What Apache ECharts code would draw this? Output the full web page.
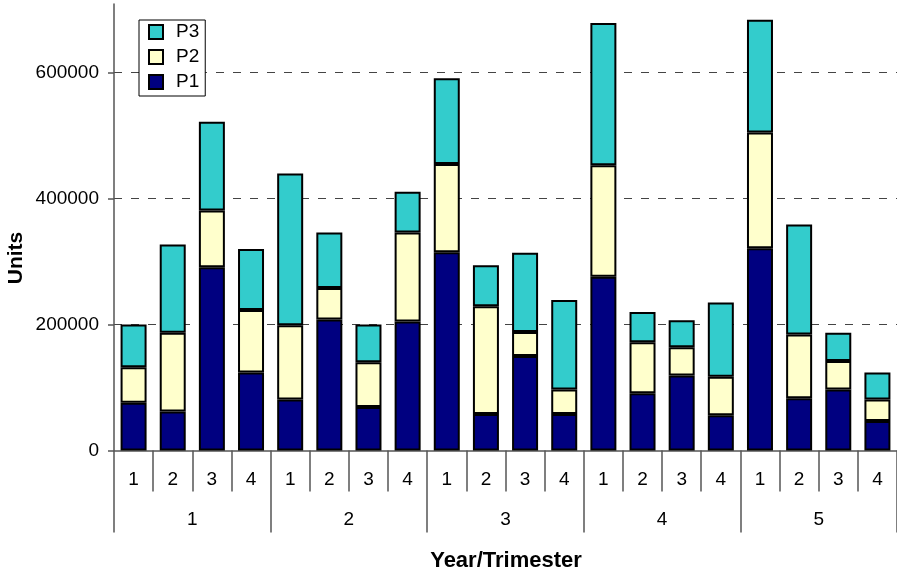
<!DOCTYPE html>
<html>
<head>
<meta charset="utf-8">
<script src="https://cdn.jsdelivr.net/npm/echarts@6/dist/echarts.min.js"></script>
<style>
html,body{margin:0;padding:0;background:#fff;}
#chart{width:897px;height:575px;}
</style>
</head>
<body>
<div id="chart"></div>
<script>
const years = ['1', '2', '3', '4', '5'];
const trimesters = ['1', '2', '3', '4'];
const yTicks = [0, 200000, 400000, 600000];
const P1 = [76000, 62000, 291000, 124000, 81000, 208000, 69000, 205000, 315000, 58000, 150000, 58000, 276000, 91000, 119000, 56000, 321000, 83000, 97000, 47000];
const P2 = [56000, 125000, 90000, 99000, 118000, 50000, 71000, 141000, 140000, 171000, 38000, 39000, 177000, 81000, 45000, 61000, 184000, 101000, 45000, 34000];
const P3 = [68000, 140000, 141000, 97000, 241000, 88000, 60000, 65000, 136000, 65000, 126000, 142000, 226000, 48000, 43000, 118000, 179000, 175000, 45000, 43000];

const categories = [];
years.forEach(y => trimesters.forEach(t => categories.push(y + '|' + t)));

const FONT = 'Liberation Sans, Arial, sans-serif';
const axisGray = '#555';

function barSeries(name, data, color) {
  return {
    name: name,
    type: 'bar',
    stack: 'total',
    data: data,
    barWidth: 26,
    itemStyle: { color: color, borderColor: '#000', borderWidth: 2 },
    emphasis: { disabled: true },
    animation: false
  };
}

const chart = echarts.init(document.getElementById('chart'), null, { renderer: 'canvas' });
chart.setOption({
  animation: false,
  grid: { left: 114, right: 0, top: 4, bottom: 124.5, containLabel: false },
  legend: {
    data: ['P3', 'P2', 'P1'],
    orient: 'vertical',
    left: 139,
    top: 20,
    padding: [2.5, 6, 4.5, 9],
    itemWidth: 14,
    itemHeight: 14,
    itemGap: 6,
    backgroundColor: '#fff',
    borderColor: '#000',
    borderWidth: 1,
    icon: 'rect',
    selectedMode: false,
    textStyle: { fontFamily: FONT, fontSize: 19, color: '#000', lineHeight: 19, padding: [0, 0, 0, 8] }
  },
  xAxis: [
    {
      type: 'category',
      data: categories,
      position: 'bottom',
      boundaryGap: true,
      axisLine: { show: true, lineStyle: { color: axisGray, width: 1.5 } },
      axisTick: { show: true, interval: 0, length: 41, lineStyle: { color: axisGray, width: 1.5 } },
      axisLabel: {
        interval: 0, margin: 20, fontFamily: FONT, fontSize: 19, color: '#000',
        formatter: v => v.split('|')[1]
      },
      splitLine: { show: false }
    },
    {
      type: 'category',
      data: years,
      position: 'bottom',
      offset: 0,
      boundaryGap: true,
      axisLine: { show: false },
      axisTick: { show: true, interval: 0, length: 82, lineStyle: { color: axisGray, width: 1.5 } },
      axisLabel: { interval: 0, margin: 60, fontFamily: FONT, fontSize: 19, color: '#000' },
      splitLine: { show: false }
    }
  ],
  yAxis: {
    type: 'value',
    min: 0,
    max: 709000,
    interval: 200000,
    axisLine: { show: true, lineStyle: { color: axisGray, width: 1.5 } },
    axisTick: { show: true, inside: false, length: 6, lineStyle: { color: axisGray, width: 1.5 }, customValues: yTicks },
    axisLabel: {
      margin: 15, fontFamily: FONT, fontSize: 19, color: '#000', customValues: yTicks,
      formatter: v => (yTicks.indexOf(v) >= 0 ? String(v) : '')
    },
    splitLine: { show: true, showMinLine: false, showMaxLine: true, lineStyle: { color: '#444', width: 1, type: [8, 9] } }
  },
  series: [
    barSeries('P1', P1, '#000080'),
    barSeries('P2', P2, '#FFFFCC'),
    barSeries('P3', P3, '#33CCCC')
  ],
  graphic: [
    {
      type: 'text',
      x: 16, y: 258,
      rotation: Math.PI / 2,
      style: { text: 'Units', fontFamily: FONT, fontSize: 21, fontWeight: 'bold', fill: '#000', textAlign: 'center', textVerticalAlign: 'middle' }
    },
    {
      type: 'text',
      x: 506, y: 561,
      style: { text: 'Year/Trimester', fontFamily: FONT, fontSize: 22, fontWeight: 'bold', fill: '#000', textAlign: 'center', textVerticalAlign: 'middle' }
    }
  ]
});
</script>
</body>
</html>
